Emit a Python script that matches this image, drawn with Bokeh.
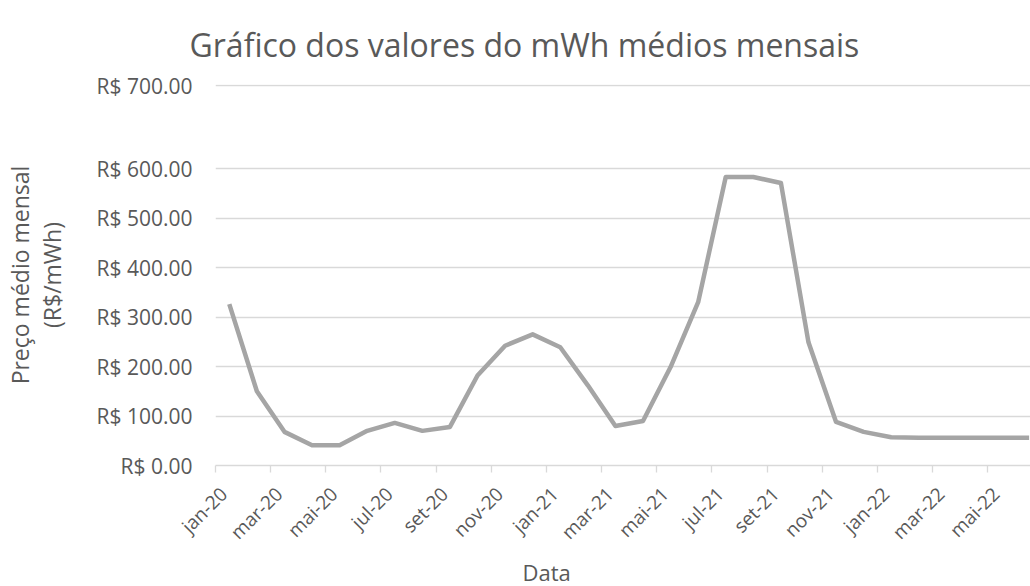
from bokeh.plotting import figure
from bokeh.models import Range1d, FixedTicker, Title
from bokeh.embed import file_html
from bokeh.resources import INLINE

# ---- data ----
months = ["jan-20", "fev-20", "mar-20", "abr-20", "mai-20", "jun-20",
          "jul-20", "ago-20", "set-20", "out-20", "nov-20", "dez-20",
          "jan-21", "fev-21", "mar-21", "abr-21", "mai-21", "jun-21",
          "jul-21", "ago-21", "set-21", "out-21", "nov-21", "dez-21",
          "jan-22", "fev-22", "mar-22", "abr-22", "mai-22", "jun-22"]
prices = [326, 150, 68, 41, 41, 70,
          86, 70, 78, 182, 242, 265,
          239, 162, 80, 90, 199, 330,
          583, 583, 571, 249, 88, 68,
          57, 56, 56, 56, 56, 56]

# y ticks as drawn in the reference (top gridline sits higher than a linear 700)
y_tick_values = [0, 100, 200, 300, 400, 500, 600, 767]
y_tick_labels = ["R$ 0.00", "R$ 100.00", "R$ 200.00", "R$ 300.00",
                 "R$ 400.00", "R$ 500.00", "R$ 600.00", "R$ 700.00"]

FONT = "Open Sans"
TXT = "#595959"
GRID = "#d9d9d9"

xs = [i + 0.5 for i in range(len(months))]

p = figure(width=1030, height=586, output_backend="svg", toolbar_location=None,
           x_range=Range1d(0, 29.55), y_range=Range1d(0, 770),
           min_border_left=210, min_border_right=0, min_border_top=84,
           min_border_bottom=119)
p.outline_line_color = None
p.background_fill_color = "white"
p.border_fill_color = "white"

p.title.text = "Gráfico dos valores do mWh médios mensais"
p.title.text_font = FONT
p.title.text_font_size = "32px"
p.title.text_font_style = "normal"
p.title.text_color = TXT
p.title.align = "left"
p.title.offset = -26
p.title.standoff = 38

p.line(xs, prices, line_color="#a5a5a5", line_width=4.5, line_join="round")

# y axis
yax = p.yaxis[0]
yax.ticker = FixedTicker(ticks=y_tick_values)
yax.major_label_overrides = dict(zip(y_tick_values, y_tick_labels))
yax.axis_line_color = None
yax.major_tick_line_color = None
yax.minor_tick_line_color = None
yax.major_tick_out = 0
yax.major_label_standoff = 23
yax.major_label_text_font = FONT
yax.major_label_text_font_size = "21px"
yax.major_label_text_color = TXT
yax.axis_label = "Preço médio mensal\n(R$/mWh)"
yax.axis_label_text_font = FONT
yax.axis_label_text_font_size = "23px"
yax.axis_label_text_font_style = "normal"
yax.axis_label_text_color = TXT
yax.axis_label_text_line_height = 1.0
yax.axis_label_standoff = 26

p.ygrid.ticker = FixedTicker(ticks=y_tick_values)
p.ygrid.grid_line_color = GRID
p.ygrid.grid_line_width = 1.3
p.xgrid.visible = False

# x axis: labels every other month, ticks on the category boundaries
label_pos = [x - 0.2 for x in xs[::2]]
boundaries = [float(i) for i in range(0, len(months) + 1, 2)]
xax = p.xaxis[0]
xax.ticker = FixedTicker(ticks=label_pos, minor_ticks=boundaries)
xax.major_label_overrides = {x: m for x, m in zip(label_pos, months[::2])}
xax.major_label_orientation = 0.785398
xax.major_tick_line_color = None
xax.major_tick_out = 0
xax.major_tick_in = 0
xax.minor_tick_out = 7
xax.minor_tick_in = 0
xax.minor_tick_line_color = GRID
xax.minor_tick_line_width = 1.3
xax.axis_line_color = GRID
xax.axis_line_width = 1.3
xax.major_label_standoff = 18
xax.major_label_text_line_height = 0.8
xax.major_label_text_font = FONT
xax.major_label_text_font_size = "19px"
xax.major_label_text_color = TXT

# x-axis title (left of the frame centre, as in the reference)
p.add_layout(Title(text="Data", text_font=FONT, text_font_size="22px",
                   text_font_style="normal", text_color=TXT,
                   align="left", offset=307, standoff=-2,
                   vertical_align="middle"), "below")

open("out.html", "w").write(file_html(p, INLINE))
